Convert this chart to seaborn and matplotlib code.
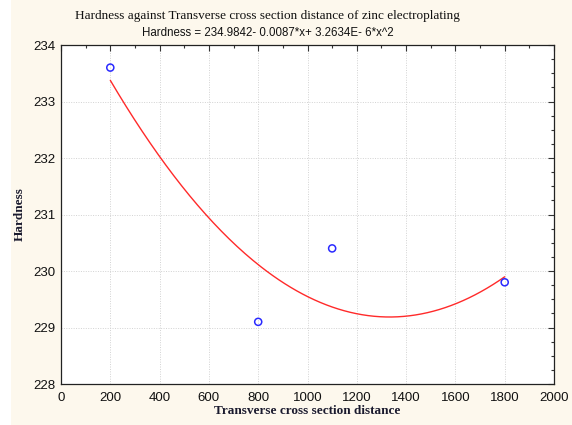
import numpy as np
import pandas as pd
import matplotlib
matplotlib.use("Agg")
import matplotlib.pyplot as plt
from matplotlib.ticker import MultipleLocator
from matplotlib.patches import Rectangle
import seaborn as sns

# Measured hardness at each transverse cross-section distance
distance = [200, 800, 1100, 1800]
hardness = [233.6, 229.1, 230.4, 229.8]

# Quadratic fit coefficients: Hardness = b0 + b1*x + b2*x^2
b0, b1, b2 = 234.9842, -0.0087, 3.2634e-6

x_ticks = [0, 200, 400, 600, 800, 1000, 1200, 1400, 1600, 1800, 2000]
y_ticks = [228, 229, 230, 231, 232, 233, 234]

points = pd.DataFrame({"distance": distance, "hardness": hardness})
xs = np.linspace(min(distance), max(distance), 200)
fit = pd.DataFrame({"distance": xs, "hardness": b0 + b1 * xs + b2 * xs ** 2})

sns.set_theme(style="white")
bg = "#fdf8ed"
fig = plt.figure(figsize=(5.72, 4.25), dpi=100, facecolor=bg)
fig.patches.append(Rectangle((0, 0), 11 / 572, 1, transform=fig.transFigure,
                             facecolor="white", edgecolor="none", zorder=-5))
ax = fig.add_axes([61 / 572, 41 / 425, 493 / 572, 339 / 425])
ax.set_facecolor("white")

sns.lineplot(data=fit, x="distance", y="hardness", ax=ax, color="#ff2a2a",
             linewidth=1.0, zorder=3)
sns.scatterplot(data=points, x="distance", y="hardness", ax=ax, s=26,
                marker="o", facecolor="none", edgecolor="#2a2aff",
                linewidth=1.1, zorder=4)

ax.set_xlim(0, 2000)
ax.set_ylim(228, 234)
ax.set_xticks(x_ticks)
ax.set_yticks(y_ticks)
ax.xaxis.set_minor_locator(MultipleLocator(100))
ax.yaxis.set_minor_locator(MultipleLocator(0.25))
ax.tick_params(which="both", direction="in", top=True, right=True,
               color="#333333", width=0.8)
ax.tick_params(which="major", length=4, labelsize=9.5, pad=4,
               labelcolor="#111111")
ax.tick_params(axis="x", which="major", pad=6)
ax.tick_params(which="minor", length=2.5)
for lab in ax.get_xticklabels() + ax.get_yticklabels():
    lab.set_fontfamily("Liberation Sans")

ax.grid(True, which="major", linestyle=(0, (1, 1.5)), color="#d2d2d2",
        linewidth=0.7)
for sp in ax.spines.values():
    sp.set_color("#222222")
    sp.set_linewidth(0.9)

ax.set_xlabel("Transverse cross section distance", family="Liberation Serif",
              fontsize=9.5, fontweight="bold", color="#1a1a2e")
ax.set_ylabel("Hardness", family="Liberation Serif", fontsize=9.5,
              fontweight="bold", color="#1a1a2e")
ax.xaxis.set_label_coords(0.5, -0.062)
ax.yaxis.set_label_coords(-0.072, 0.5)

fig.text(267 / 572, 1 - 16 / 425,
         "Hardness against Transverse cross section distance of zinc electroplating",
         ha="center", va="center", family="Liberation Serif", fontsize=9.5,
         color="#111111")
fig.text(268 / 572, 1 - 33 / 425,
         "Hardness = 234.9842- 0.0087*x+ 3.2634E- 6*x^2",
         ha="center", va="center", family="Liberation Sans", fontsize=8.3,
         color="#111111")

fig.savefig("out.png", dpi=100, facecolor=bg)
